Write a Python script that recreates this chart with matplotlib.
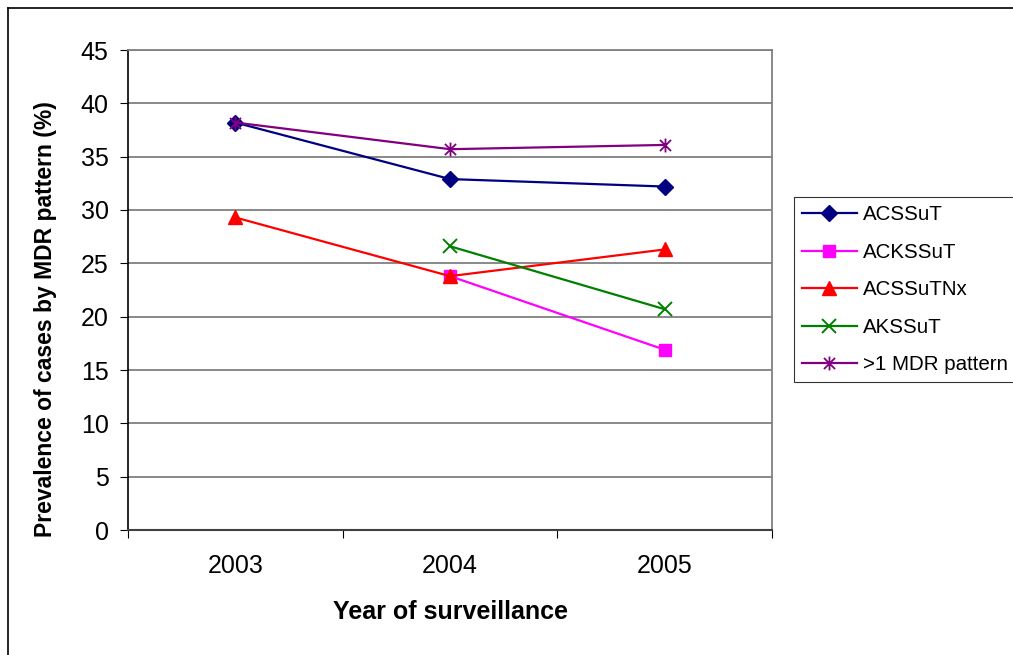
import matplotlib
matplotlib.use("Agg")
import matplotlib.pyplot as plt
import numpy as np
from matplotlib.path import Path
from matplotlib.lines import Line2D

plt.rcParams['font.family'] = ['Liberation Sans', 'DejaVu Sans']

years = ["2003", "2004", "2005"]
acssut = [38.2, 32.9, 32.2]
ackssut = [np.nan, 23.8, 16.9]
acssutnx = [29.3, 23.8, 26.3]
akssut = [np.nan, 26.6, 20.7]
multi_mdr = [38.2, 35.7, 36.1]

# Asterisk marker: vertical stroke plus two diagonals
star_path = Path(
    [(0, -1), (0, 1), (-0.8, -0.8), (0.8, 0.8), (-0.8, 0.8), (0.8, -0.8)],
    [Path.MOVETO, Path.LINETO, Path.MOVETO, Path.LINETO, Path.MOVETO, Path.LINETO],
)

W, H = 1013, 655
fig = plt.figure(figsize=(W / 100, H / 100), dpi=100)
ax = fig.add_axes([128 / W, 1 - 530 / H, (772 - 128) / W, (530 - 50) / H])

x = np.arange(len(years))
series = [
    ("ACSSuT", acssut, "#000080", dict(marker="D", markersize=8.5)),
    ("ACKSSuT", ackssut, "#FF00FF", dict(marker="s", markersize=8)),
    ("ACSSuTNx", acssutnx, "#FF0000", dict(marker="^", markersize=9.5)),
    ("AKSSuT", akssut, "#008000", dict(marker="x", markersize=9.5, markeredgewidth=1.4)),
    (">1 MDR pattern", multi_mdr, "#800080",
     dict(marker=star_path, markersize=10, markeredgewidth=1.3, markerfacecolor="none")),
]

handles = []
for name, vals, color, mk in series:
    h, = ax.plot(x, vals, color=color, linewidth=1.6, markeredgecolor=color,
                 markerfacecolor=mk.pop("markerfacecolor", color), label=name, **mk)
    handles.append(h)

ax.set_xlim(-0.5, 2.5)
ax.set_ylim(0, 45)
ax.set_yticks(np.arange(0, 46, 5))
ax.yaxis.grid(True, color="#808080", linewidth=1.3)
ax.set_axisbelow(True)

# Category boundaries carry the tick marks; labels sit at the centres
ax.set_xticks([-0.5, 0.5, 1.5, 2.5])
ax.set_xticklabels([])
ax.set_xticks(x, minor=True)
ax.set_xticklabels(years, minor=True, fontsize=18)
ax.tick_params(axis="x", which="minor", length=0, pad=17)
ax.tick_params(axis="x", which="major", length=6, direction="out", color="black", width=0.8)
ax.tick_params(axis="y", length=6, direction="out", labelsize=18, pad=8, width=0.8)

for s in ["top", "right"]:
    ax.spines[s].set_color("#808080")
    ax.spines[s].set_linewidth(1.3)
ax.spines["left"].set_color("black")
ax.spines["left"].set_linewidth(1.2)
ax.spines["bottom"].set_color("#404040")
ax.spines["bottom"].set_linewidth(1.5)

ax.set_xlabel("Year of surveillance", fontsize=18, fontweight="bold", labelpad=16)
ax.set_ylabel("Prevalence of cases by MDR pattern (%)", fontsize=16.5, fontweight="bold",
              va="center")
ax.yaxis.set_label_coords(-0.128, 0.44)

leg = fig.legend(handles=handles, loc="upper left",
                 bbox_to_anchor=(794 / W, 1 - 197 / H), fontsize=14.8,
                 frameon=True, fancybox=False, edgecolor="black",
                 handlelength=2.65, handletextpad=0.3, labelspacing=0.9,
                 borderpad=0.4, borderaxespad=0)
leg.get_frame().set_linewidth(0.8)

# Outer frame edges visible on the left and top
fig.add_artist(Line2D([8 / W, 8 / W], [0, 1 - 8 / H], color="black", linewidth=1.2,
                      transform=fig.transFigure))
fig.add_artist(Line2D([8 / W, 1], [1 - 8 / H, 1 - 8 / H], color="black", linewidth=1.2,
                      transform=fig.transFigure))

fig.savefig("out.png", dpi=100)
